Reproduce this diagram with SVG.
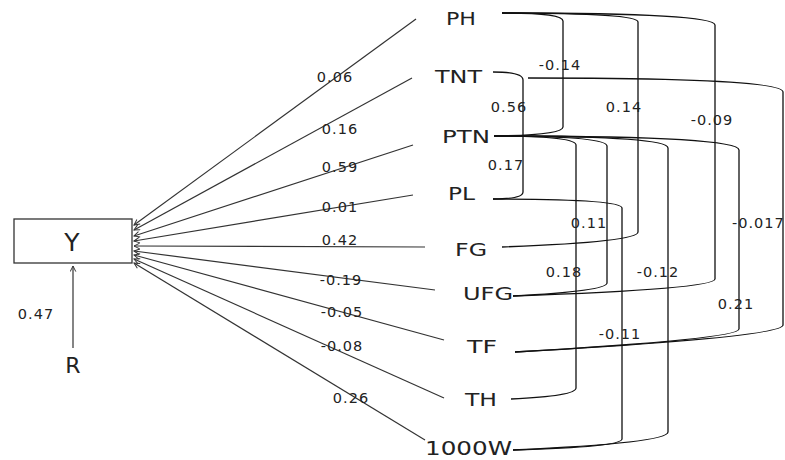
<svg xmlns="http://www.w3.org/2000/svg" width="785" height="460" viewBox="0 0 785 460">
<style>
.n{font-family:"DejaVu Sans","Liberation Sans",sans-serif;font-size:18px;fill:#222}
.c{font-family:"DejaVu Sans","Liberation Sans",sans-serif;font-size:14.5px;fill:#222;text-anchor:middle;letter-spacing:1px}
.a{stroke:#333;stroke-width:1.2;fill:none;marker-end:url(#ah)}
.k{stroke:#111;stroke-width:1.3;fill:none}
</style>
<defs>
<marker id="ah" viewBox="0 0 10 10" refX="9" refY="5" markerWidth="7" markerHeight="7" markerUnits="userSpaceOnUse" orient="auto">
<path d="M1,1 L9,5 L1,9" fill="none" stroke="#333" stroke-width="1.4"/>
</marker>
</defs>
<rect width="785" height="460" fill="#fff"/>

<g id="Y"><rect x="14" y="219" width="118" height="44" fill="#fff" stroke="#333" stroke-width="1.3"/><text class="n" x="72" y="251" style="font-size:25px;text-anchor:middle">Y</text></g>
<g id="R"><text class="n" x="73" y="373" style="font-size:22px;text-anchor:middle">R</text></g>
<g id="PH"><text class="n" x="446" y="25" textLength="30" lengthAdjust="spacingAndGlyphs">PH</text></g>
<g id="TNT"><text class="n" x="435" y="83" textLength="47" lengthAdjust="spacingAndGlyphs">TNT</text></g>
<g id="PTN"><text class="n" x="442" y="143" textLength="48" lengthAdjust="spacingAndGlyphs">PTN</text></g>
<g id="PL"><text class="n" x="448" y="200" textLength="27" lengthAdjust="spacingAndGlyphs">PL</text></g>
<g id="FG"><text class="n" x="455" y="256" textLength="32" lengthAdjust="spacingAndGlyphs">FG</text></g>
<g id="UFG"><text class="n" x="463" y="300" textLength="50" lengthAdjust="spacingAndGlyphs">UFG</text></g>
<g id="TF"><text class="n" x="467" y="353" textLength="30" lengthAdjust="spacingAndGlyphs">TF</text></g>
<g id="TH"><text class="n" x="465" y="406" textLength="32" lengthAdjust="spacingAndGlyphs">TH</text></g>
<g id="W1000"><text class="n" x="425" y="455" style="font-size:19px" textLength="87" lengthAdjust="spacingAndGlyphs">1000W</text></g>

<g id="connectors">
<line class="a" x1="73" y1="348" x2="73" y2="266"/>
<line class="a" x1="416" y1="19" x2="134" y2="225"/>
<line class="a" x1="412" y1="78" x2="134" y2="230"/>
<line class="a" x1="413" y1="145" x2="134" y2="236"/>
<line class="a" x1="413" y1="195" x2="134" y2="241"/>
<line class="a" x1="425" y1="247" x2="134" y2="246"/>
<line class="a" x1="435" y1="290" x2="134" y2="251"/>
<line class="a" x1="444" y1="340" x2="134" y2="255"/>
<line class="a" x1="444" y1="398" x2="134" y2="259"/>
<line class="a" x1="425" y1="440" x2="134" y2="263"/>

<path class="k" d="M502,13 Q563,13 563,21 L563,127 Q563,135 496,136"/>
<path class="k" d="M502,13 Q638,13 638,22 L638,232 Q638,242 502,247"/>
<path class="k" d="M502,13 Q715,13 715,25 L715,279 Q715,289 513,296"/>
<path class="k" d="M493,72 Q523,72 523,80 L523,192 Q523,199 493,199"/>
<path class="k" d="M528,78 Q783,78 783,92 L783,325 Q783,337 515,352"/>
<path class="k" d="M494,136 Q576,136 576,145 L576,388 Q576,396 511,399"/>
<path class="k" d="M494,136 Q607,136 607,146 L607,283 Q607,291 513,296"/>
<path class="k" d="M494,136 Q668,136 668,148 L668,432 Q668,443 513,450"/>
<path class="k" d="M494,136 Q739,136 739,150 L739,329 Q739,339 515,352"/>
<path class="k" d="M493,199 Q622,199 622,208 L622,439 Q622,447 513,450"/>
</g>

<g id="labels">
<text class="c" x="36" y="319">0.47</text>
<text class="c" x="335" y="82">0.06</text>
<text class="c" x="340" y="134">0.16</text>
<text class="c" x="340" y="172">0.59</text>
<text class="c" x="340" y="212">0.01</text>
<text class="c" x="340" y="245">0.42</text>
<text class="c" x="341" y="285">-0.19</text>
<text class="c" x="342" y="317">-0.05</text>
<text class="c" x="342" y="351">-0.08</text>
<text class="c" x="351" y="403">0.26</text>
<text class="c" x="560" y="70">-0.14</text>
<text class="c" x="509" y="112">0.56</text>
<text class="c" x="624" y="112">0.14</text>
<text class="c" x="712" y="125">-0.09</text>
<text class="c" x="506" y="170">0.17</text>
<text class="c" x="589" y="228">0.11</text>
<text class="c" x="732" y="228" style="text-anchor:start">-0.017</text>
<text class="c" x="564" y="277">0.18</text>
<text class="c" x="658" y="277">-0.12</text>
<text class="c" x="736" y="309">0.21</text>
<text class="c" x="620" y="339">-0.11</text>
</g>
</svg>
